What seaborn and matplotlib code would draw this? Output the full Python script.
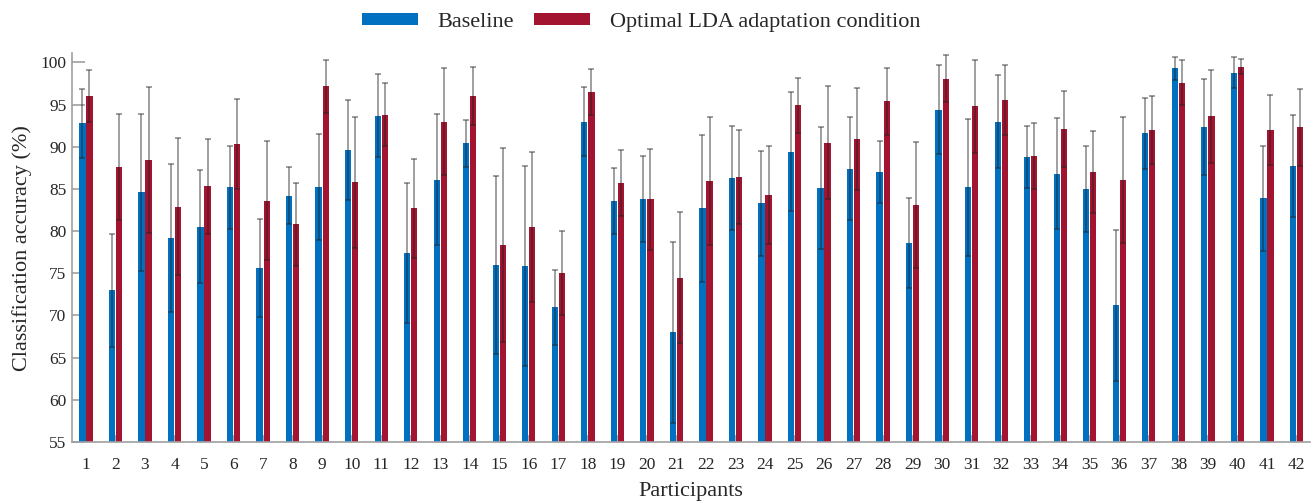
import matplotlib
matplotlib.use("Agg")
import matplotlib.pyplot as plt
import seaborn as sns
import pandas as pd
import numpy as np

participants = [str(i) for i in range(1, 43)]
baseline = [92.8, 73.0, 84.6, 79.2, 80.5, 85.2, 75.6, 84.2, 85.2, 89.6, 93.7,
            77.4, 86.1, 90.4, 76.0, 75.9, 71.0, 93.0, 83.6, 83.8, 68.0,
            82.7, 86.3, 83.3, 89.4, 85.1, 87.4, 87.0, 78.6, 94.4, 85.2, 93.0,
            88.8, 86.8, 85.0, 71.2, 91.6, 99.3, 92.3, 98.8, 83.9, 87.7]
baseline_sd = [4.1, 6.7, 9.3, 8.75, 6.7, 4.9, 5.8, 3.4, 6.3, 5.9, 4.95,
               8.35, 7.75, 2.8, 10.55, 11.85, 4.45, 4.1, 3.9, 5.1, 10.7,
               8.7, 6.15, 6.25, 7.05, 7.25, 6.1, 3.65, 5.35, 5.3, 8.15, 5.55,
               3.7, 6.6, 5.15, 8.95, 4.2, 1.4, 5.7, 1.8, 6.25, 6.05]
optimal = [96.0, 87.6, 88.4, 82.9, 85.3, 90.3, 83.6, 80.8, 97.2, 85.8, 93.8,
           82.7, 93.0, 96.0, 78.4, 80.5, 75.0, 96.5, 85.7, 83.8, 74.5,
           85.9, 86.4, 84.3, 94.9, 90.5, 90.9, 95.4, 83.1, 98.1, 94.8, 95.6,
           88.9, 92.1, 87.0, 86.1, 92.0, 97.6, 93.6, 99.5, 92.0, 92.3]
optimal_sd = [3.1, 6.3, 8.65, 8.1, 5.65, 5.35, 7.05, 4.9, 3.15, 7.75, 3.75,
              5.85, 6.35, 3.45, 11.5, 8.85, 5.0, 2.75, 3.9, 6.0, 7.8,
              7.6, 5.55, 5.85, 3.3, 6.7, 6.05, 4.0, 7.45, 2.8, 5.5, 4.15,
              3.95, 4.5, 4.85, 7.45, 4.05, 2.65, 5.5, 0.9, 4.2, 4.6]
conditions = ["Baseline", "Optimal LDA adaptation condition"]
yticks = [55, 60, 65, 70, 75, 80, 85, 90, 95, 100]

df = pd.DataFrame({
    "Participant": participants * 2,
    "Accuracy": baseline + optimal,
    "SD": baseline_sd + optimal_sd,
    "Condition": [conditions[0]] * len(participants) + [conditions[1]] * len(participants),
})

sns.set_style("white")
plt.rcParams["font.family"] = ["Liberation Serif", "DejaVu Serif"]

fig = plt.figure(figsize=(13.15, 5.01), dpi=100)
ax = fig.add_axes([0.0548, 0.1178, 0.9412, 0.776])

palette = {conditions[0]: "#0070C0", conditions[1]: "#A2142F"}
sns.barplot(data=df, x="Participant", y="Accuracy", hue="Condition",
            order=participants, hue_order=conditions, palette=palette,
            width=0.48, gap=0.12, errorbar=None, saturation=1,
            linewidth=0, ax=ax, legend=True)

# error bars centered on the seaborn bars
for cont, sds in zip(ax.containers, [baseline_sd, optimal_sd]):
    xs = [p.get_x() + p.get_width() / 2 for p in cont.patches]
    ys = [p.get_height() for p in cont.patches]
    ax.errorbar(xs, ys, yerr=sds, fmt="none", ecolor="#222222", alpha=0.55,
                elinewidth=1.1, capsize=2, capthick=1.1, zorder=3)

ax.set_ylim(55, 101.1)
ax.set_xlim(-0.47, 41.45)
ax.set_yticks(yticks)
ax.set_axisbelow(True)

for s in ["top", "right"]:
    ax.spines[s].set_visible(False)
for s in ["left", "bottom"]:
    ax.spines[s].set_color("#a0a0a0")
    ax.spines[s].set_linewidth(1.2)

ax.tick_params(axis="y", direction="in", length=9, color="#a0a0a0", width=1.2,
               labelsize=12.5, pad=4, left=True)
ax.tick_params(axis="x", direction="in", length=5, color="#a0a0a0", width=1.2,
               labelsize=12.5, pad=11, bottom=True)

ax.set_xlabel("Participants", fontsize=16, labelpad=6)
ax.set_ylabel("Classification accuracy (%)", fontsize=16, labelpad=6)

handles, labels = ax.get_legend_handles_labels()
ax.legend_.remove()
fig.legend(handles, labels, loc="center", bbox_to_anchor=(0.4875, 0.955),
           ncol=2, frameon=False, fontsize=16, handlelength=2.5,
           handleheight=0.45, handletextpad=0.9, columnspacing=0.9)

fig.savefig("out.png", dpi=100)
